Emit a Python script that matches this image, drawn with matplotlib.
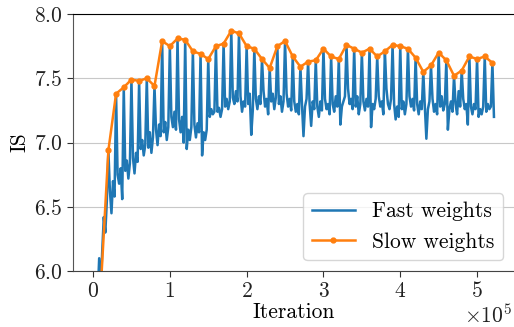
import numpy as np
import matplotlib
matplotlib.use('Agg')
import matplotlib.pyplot as plt

plt.rcParams['font.family'] = 'serif'
plt.rcParams['font.serif'] = ['cmr10']
plt.rcParams['mathtext.fontset'] = 'cm'
plt.rcParams['axes.formatter.use_mathtext'] = True
plt.rcParams['axes.unicode_minus'] = False

# slow weights: evaluated every 1e4 iterations (1e4 .. 52e4)
slow_iter = np.arange(1, 53) * 1e4
slow_is = [5.86, 6.94, 7.38, 7.43, 7.49, 7.48, 7.50, 7.44, 7.79, 7.75,
           7.81, 7.80, 7.71, 7.69, 7.65, 7.75, 7.77, 7.87, 7.85, 7.75,
           7.73, 7.65, 7.58, 7.75, 7.79, 7.67, 7.59, 7.63, 7.64, 7.73,
           7.67, 7.65, 7.76, 7.73, 7.70, 7.73, 7.67, 7.71, 7.76, 7.75,
           7.73, 7.66, 7.55, 7.60, 7.70, 7.64, 7.52, 7.56, 7.67, 7.65,
           7.67, 7.62]

# fast weights: value at iteration 0, then 4 evals (every 2e3) inside each sync period
fast_start = 4.6
fast_between = [
    [5.2, 5.5, 5.8, 6.1],
    [6.16, 6.42, 6.30, 6.55],
    [6.62, 6.45, 6.70, 6.58],
    [6.75, 6.68, 6.80, 6.56],
    [6.78, 6.86, 6.72, 6.84],
    [6.88, 6.76, 6.92, 6.85],
    [6.95, 7.02, 6.90, 6.98],
    [6.96, 7.08, 6.92, 7.04],
    [7.10, 6.98, 7.14, 7.05],
    [7.08, 7.16, 7.02, 7.12],
    [7.20, 7.12, 7.24, 7.10],
    [7.18, 7.08, 7.20, 7.00],
    [6.95, 7.10, 7.02, 7.12],
    [7.14, 7.04, 7.15, 7.08],
    [6.90, 7.08, 7.02, 7.10],
    [7.20, 7.26, 7.22, 7.24],
    [7.24, 7.27, 7.20, 7.26],
    [7.28, 7.34, 7.26, 7.32],
    [7.35, 7.30, 7.40, 7.32],
    [7.36, 7.24, 7.32, 7.28],
    [7.30, 7.38, 7.06, 7.25],
    [7.34, 7.26, 7.36, 7.30],
    [7.40, 7.28, 7.34, 7.22],
    [7.32, 7.38, 7.26, 7.35],
    [7.30, 7.36, 7.24, 7.32],
    [7.38, 7.28, 7.34, 7.25],
    [7.32, 7.24, 7.30, 7.22],
    [7.30, 7.05, 7.28, 7.34],
    [7.30, 7.13, 7.32, 7.26],
    [7.28, 7.20, 7.32, 7.25],
    [7.34, 7.26, 7.30, 7.22],
    [7.30, 7.24, 7.36, 7.28],
    [7.14, 7.28, 7.32, 7.36],
    [7.42, 7.30, 7.34, 7.26],
    [7.28, 7.36, 7.22, 7.30],
    [7.32, 7.25, 7.34, 7.28],
    [7.12, 7.30, 7.26, 7.34],
    [7.36, 7.28, 7.32, 7.22],
    [7.42, 7.30, 7.26, 7.34],
    [7.30, 7.18, 7.28, 7.20],
    [7.26, 7.32, 7.22, 7.30],
    [7.36, 7.28, 7.34, 7.25],
    [7.30, 7.22, 7.32, 7.26],
    [7.28, 7.03, 7.26, 7.32],
    [7.34, 7.24, 7.30, 7.22],
    [7.28, 7.36, 7.25, 7.30],
    [7.10, 7.26, 7.32, 7.24],
    [7.30, 7.22, 7.40, 7.28],
    [7.34, 7.26, 7.30, 7.14],
    [7.28, 7.22, 7.30, 7.26],
    [7.20, 7.26, 7.22, 7.28],
    [7.24, 7.30, 7.26, 7.28],
]
fast_end = 7.20

# build fast series: at each sync point fast weights equal slow weights
fast_x = [0.0]
fast_y = [fast_start]
for k, vals in enumerate(fast_between):
    for j, v in enumerate(vals):
        fast_x.append(k * 1e4 + (j + 1) * 2e3)
        fast_y.append(v)
    fast_x.append(slow_iter[k])
    fast_y.append(slow_is[k])
fast_x.append(slow_iter[-1] + 2e3)
fast_y.append(fast_end)

fs = 15.5

fig = plt.figure(figsize=(5.14, 3.27), dpi=100)
ax = fig.add_axes([0.142, 0.171, 0.858, 0.786])

ax.plot(fast_x, fast_y, color='#1f77b4', lw=1.8, label='Fast weights')
ax.plot(slow_iter, slow_is, color='#ff7f0e', lw=1.8, marker='o', ms=3.5,
        label='Slow weights')

ax.set_ylim(6.0, 8.0)
ax.set_yticks([6.0, 6.5, 7.0, 7.5, 8.0])
ax.set_xticks([0, 1e5, 2e5, 3e5, 4e5, 5e5])
ax.ticklabel_format(style='sci', axis='x', scilimits=(0, 0))
ax.grid(axis='y', color='#c8c8c8', lw=0.8)
ax.set_axisbelow(True)

ax.spines['right'].set_visible(False)
ax.spines['top'].set_color('black')
ax.spines['left'].set_color('#555555')
ax.spines['bottom'].set_color('#444444')
ax.tick_params(colors='#333333', labelcolor='#222222', labelsize=fs, length=4)

# offset text placed by hand so it stays inside the figure
ax.xaxis.get_offset_text().set_visible(False)
fig.text(0.997, 0.012, r'$\times10^{5}$', ha='right', va='baseline',
         fontsize=fs, color='#222222')

ax.set_xlabel('Iteration', fontsize=fs, labelpad=1)
ax.set_ylabel('IS', fontsize=fs, labelpad=3)

leg = ax.legend(loc='lower right', fontsize=fs, borderaxespad=0.5,
                handlelength=2.0, fancybox=True)
leg.get_frame().set_edgecolor('#cccccc')

fig.savefig('out.png', dpi=100)
